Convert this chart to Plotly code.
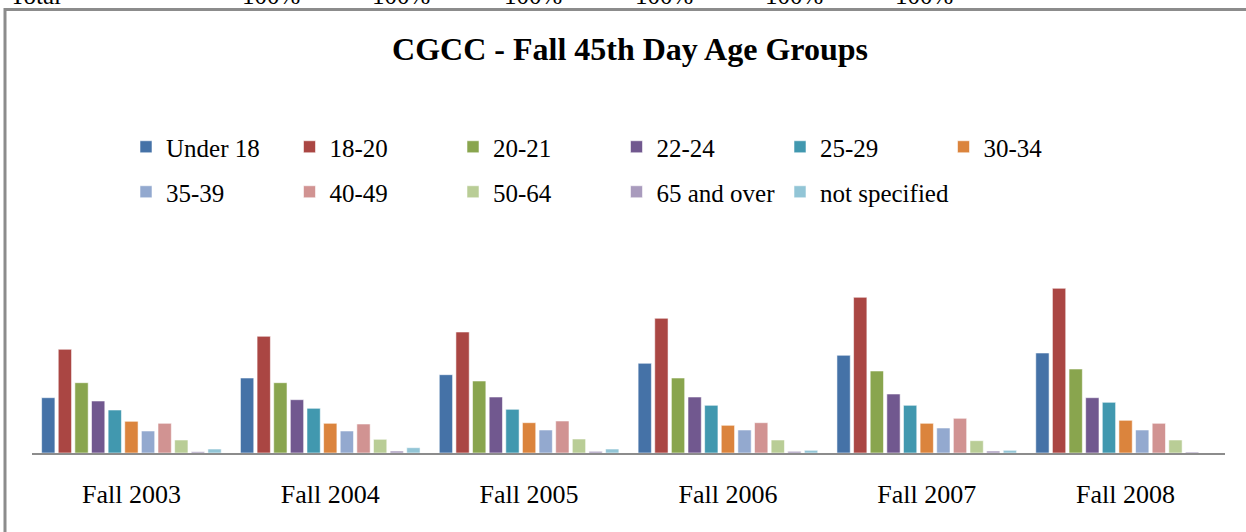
import plotly.graph_objects as go

# ---- data (estimated headcounts) ----
terms = ["Fall 2003", "Fall 2004", "Fall 2005", "Fall 2006", "Fall 2007", "Fall 2008"]

under_18 = [553, 750, 783, 897, 977, 1000]
age_18_20 = [1037, 1167, 1210, 1347, 1557, 1647]
age_20_21 = [703, 703, 720, 750, 820, 840]
age_22_24 = [520, 533, 560, 560, 590, 553]
age_25_29 = [430, 447, 437, 477, 477, 507]
age_30_34 = [317, 297, 303, 277, 297, 327]
age_35_39 = [220, 220, 230, 230, 250, 230]
age_40_49 = [297, 290, 320, 303, 347, 297]
age_50_64 = [130, 137, 140, 130, 123, 130]
age_65_over = [13, 20, 17, 17, 20, 10]
not_specified = [40, 53, 40, 27, 27, 0]

series_names = ["Under 18", "18-20", "20-21", "22-24", "25-29", "30-34",
                "35-39", "40-49", "50-64", "65 and over", "not specified"]
series_values = [under_18, age_18_20, age_20_21, age_22_24, age_25_29, age_30_34,
                 age_35_39, age_40_49, age_50_64, age_65_over, not_specified]
colors = ["#4572A7", "#AA4643", "#89A54E", "#71588F", "#4198AF", "#DB843D",
          "#93A9CF", "#D19392", "#B9CD96", "#A99BBD", "#92C5D6"]

top_labels = ["Total", "100%", "100%", "100%", "100%", "100%", "100%"]
top_label_x = [8, 240, 370, 502, 633, 763, 893]

W, H = 1246, 532
FONT = "Liberation Serif, Times New Roman, serif"

legend_of = ["legend"] * 6 + ["legend2"] * 4 + ["legend3"]

fig = go.Figure()
for name, vals, col, lg in zip(series_names, series_values, colors, legend_of):
    fig.add_trace(go.Bar(
        x=terms, y=vals, name=name,
        marker=dict(color=col, line=dict(color="rgba(255,255,255,0.55)", width=1)),
        legend=lg,
    ))

plot_top, plot_bot, plot_l, plot_r = 280, 453, 32, 1225
ph = plot_bot - plot_top

def py(ypix):
    return (plot_bot - ypix) / ph

def px(xpix):
    return (xpix - plot_l) / (plot_r - plot_l)

legend_common = dict(
    orientation="h", xref="container", yref="container",
    xanchor="left", yanchor="middle",
    font=dict(family=FONT, size=25, color="#000000"),
    entrywidthmode="pixels",
    bgcolor="rgba(0,0,0,0)", itemclick=False, itemdoubleclick=False,
    traceorder="normal",
)

fig.update_layout(
    width=W, height=H,
    margin=dict(l=plot_l, r=W - plot_r, t=plot_top, b=H - plot_bot, autoexpand=False),
    paper_bgcolor="white", plot_bgcolor="white",
    barmode="group", bargap=0.08, bargroupgap=0.2,
    font=dict(family=FONT, color="#000000"),
    title=dict(text="<b>CGCC - Fall 45th Day Age Groups</b>",
               font=dict(family=FONT, size=32, color="#000000"),
               x=630 / W, xanchor="center", xref="container",
               y=1 - 49 / H, yanchor="middle", yref="container"),
    legend=dict(x=126 / W, y=1 - 147 / H, entrywidth=118.5, **legend_common),
    legend2=dict(x=126 / W, y=1 - 192 / H, entrywidth=118.5, **legend_common),
    legend3=dict(x=780 / W, y=1 - 192 / H, entrywidth=180, **legend_common),
    xaxis=dict(showgrid=False, ticks="", showline=True, linecolor="#8C8C8C",
               linewidth=2, tickfont=dict(family=FONT, size=26, color="#000000"),
               ticklabelstandoff=17, fixedrange=True),
    yaxis=dict(range=[0, ph * 10], visible=False, showgrid=False, fixedrange=True),
    showlegend=True,
)

# chart frame (extends beyond the right and bottom edges of the picture)
fig.add_shape(type="rect", xref="paper", yref="paper",
              x0=px(5), x1=px(1260), y0=py(560), y1=py(9.5),
              line=dict(color="#8C8C8C", width=3), fillcolor="rgba(0,0,0,0)",
              layer="above")

# clipped text row from above the chart (only its bottom edge shows)
for t, xx in zip(top_labels, top_label_x):
    fig.add_annotation(text=t, xref="paper", yref="paper", x=px(xx), y=py(11),
                       xanchor="left", yanchor="bottom", showarrow=False,
                       font=dict(family=FONT, size=25, color="#000000"))

fig.write_html("out.html", config={"displayModeBar": False},
               post_script="document.body.style.margin='0';document.body.style.overflow='hidden';")
